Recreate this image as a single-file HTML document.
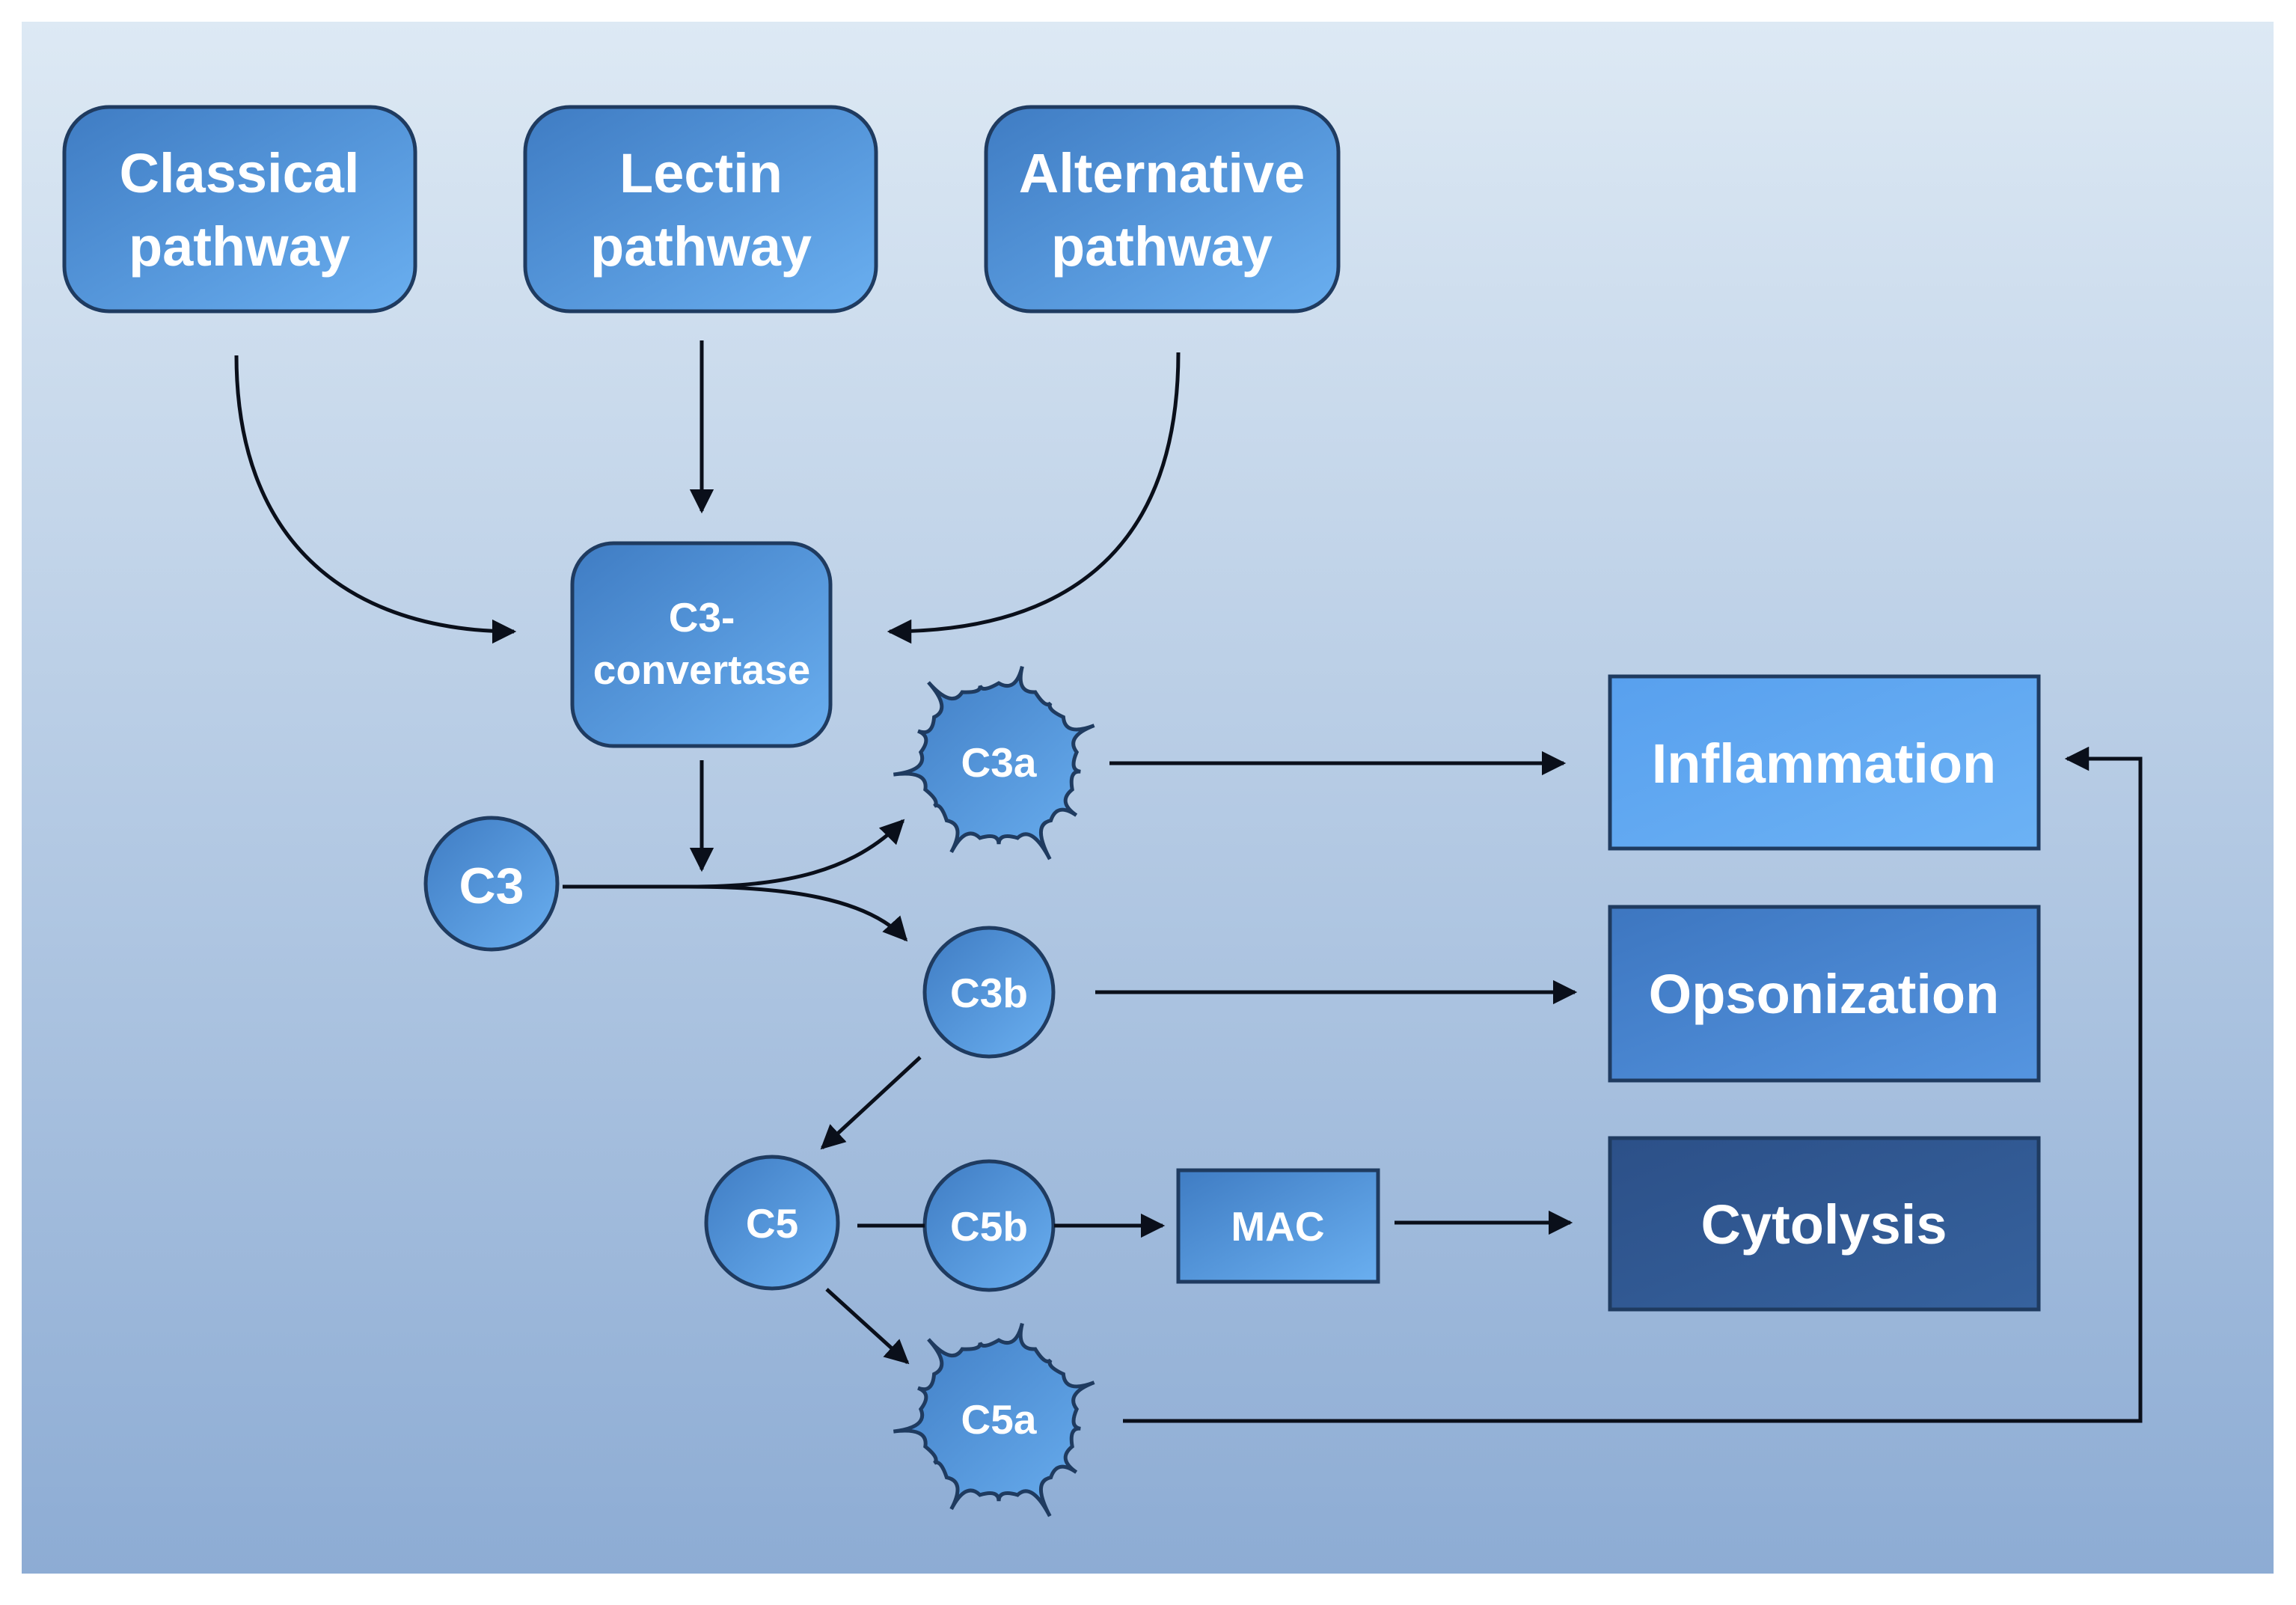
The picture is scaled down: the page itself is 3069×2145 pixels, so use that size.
<!DOCTYPE html>
<html><head><meta charset="utf-8"><style>
html,body{margin:0;padding:0;background:#fff;}
svg{display:block}
text{font-family:"Liberation Sans",sans-serif;fill:#fff;text-anchor:middle;font-weight:bold;}
</style></head><body>
<svg width="3069" height="2145" viewBox="0 0 3069 2145" xmlns="http://www.w3.org/2000/svg">
<defs>
<linearGradient id="bg" x1="0" y1="0" x2="0" y2="1"><stop offset="0" stop-color="#dde9f4"/><stop offset="1" stop-color="#8dacd4"/></linearGradient>
<linearGradient id="bx" x1="0" y1="0" x2="1" y2="1"><stop offset="0" stop-color="#3f7cc3"/><stop offset="1" stop-color="#6aaff0"/></linearGradient>
<linearGradient id="inf" x1="0" y1="0" x2="1" y2="1"><stop offset="0" stop-color="#58a0ee"/><stop offset="1" stop-color="#6cb2f5"/></linearGradient>
<linearGradient id="ops" x1="0" y1="0" x2="1" y2="1"><stop offset="0" stop-color="#3d76c0"/><stop offset="1" stop-color="#5595e0"/></linearGradient>
<linearGradient id="cyt" x1="0" y1="0" x2="1" y2="1"><stop offset="0" stop-color="#2c5088"/><stop offset="1" stop-color="#36629e"/></linearGradient>
<marker id="ah" viewBox="0 0 10 10" refX="9" refY="5" markerWidth="6.5" markerHeight="6.5" orient="auto" markerUnits="strokeWidth"><path d="M0,0 L10,5 L0,10 z" fill="#0a0f1a"/></marker>
</defs>
<rect x="29" y="29" width="3010" height="2074" fill="url(#bg)"/>
<g stroke="#1f3b60" stroke-width="5" fill="url(#bx)">
<rect x="86" y="143" width="469" height="273" rx="60"/>
<rect x="702" y="143" width="469" height="273" rx="60"/>
<rect x="1318" y="143" width="471" height="273" rx="60"/>
<rect x="765" y="726" width="345" height="271" rx="55"/>
<circle cx="657" cy="1181" r="88"/>
<circle cx="1322" cy="1326" r="86"/>
<circle cx="1032" cy="1634" r="88"/>
<circle cx="1322" cy="1638" r="86"/>
<rect x="1575" y="1564" width="267" height="149"/>
<rect x="2152" y="904" width="573" height="230" fill="url(#inf)"/>
<rect x="2152" y="1212" width="573" height="232" fill="url(#ops)"/>
<rect x="2152" y="1521" width="573" height="229" fill="url(#cyt)"/>
<path id="s1" d=""/>
<path id="s2" d=""/>
</g>
<g stroke="#0a0f1a" stroke-width="5" fill="none" marker-end="url(#ah)">
<path d="M316,475 C316,746 490,844 687,844"/>
<path d="M938,455 L938,683"/>
<path d="M1575,471 C1575,746 1413,844 1189,844"/>
<path d="M938,1016 L938,1162"/>
<path d="M752,1185 L920,1185 C1050,1185 1140,1165 1207,1097"/>
<path d="M920,1185 C1050,1185 1160,1200 1211,1256"/>
<path d="M1483,1020 L2090,1020"/>
<path d="M1464,1326 L2105,1326"/>
<path d="M1230,1413 L1099,1534"/>
<path d="M1146,1638 L1236,1638" marker-end="none"/>
<path d="M1409,1638 L1554,1638"/>
<path d="M1864,1634 L2099,1634"/>
<path d="M1105,1723 L1213,1821"/>
<path d="M1501,1899 L2861,1899 L2861,1014 L2763,1014"/>
</g>
<g font-size="74">
<text x="320" y="257">Classical</text><text x="320" y="355">pathway</text>
<text x="937" y="257">Lectin</text><text x="937" y="355">pathway</text>
<text x="1553" y="257">Alternative</text><text x="1553" y="355">pathway</text>
</g>
<g font-size="55">
<text x="938" y="844">C3-</text><text x="938" y="914">convertase</text>
<text x="1335" y="1038">C3a</text>
<text x="1322" y="1346">C3b</text>
<text x="1032" y="1654">C5</text>
<text x="1322" y="1658">C5b</text>
<text x="1708" y="1658">MAC</text>
<text x="1335" y="1916">C5a</text>
</g>
<text x="657" y="1207" font-size="68">C3</text>
<g font-size="74">
<text x="2438" y="1046">Inflammation</text>
<text x="2438" y="1354">Opsonization</text>
<text x="2438" y="1662">Cytolysis</text>
</g>
</svg>
<script>
function splat(cx,cy){
 var n=13,d="",R=105;
 var spikes=[1.25,1.0,1.3,1.05,1.2,1.4,1.05,1.3,1.0,1.35,1.1,1.35,1.0];
 for(var i=0;i<n;i++){
  var a0=(i/n)*2*Math.PI-Math.PI/2, a1=((i+0.5)/n)*2*Math.PI-Math.PI/2, a2=((i+1)/n)*2*Math.PI-Math.PI/2;
  var x0=cx+R*Math.cos(a0),y0=cy+R*Math.sin(a0);
  var r=R*spikes[i];
  var xs=cx+r*Math.cos(a1),ys=cy+r*Math.sin(a1);
  var x2=cx+R*Math.cos(a2),y2=cy+R*Math.sin(a2);
  if(i==0)d+="M"+x0.toFixed(1)+","+y0.toFixed(1);
  var mx=cx+R*0.9*Math.cos(a1),my=cy+R*0.9*Math.sin(a1);
  d+=" Q"+mx.toFixed(1)+","+my.toFixed(1)+" "+xs.toFixed(1)+","+ys.toFixed(1);
  d+=" Q"+mx.toFixed(1)+","+my.toFixed(1)+" "+x2.toFixed(1)+","+y2.toFixed(1);
 }
 return d+"Z";
}
document.getElementById("s1").setAttribute("d",splat(1335,1018));
document.getElementById("s2").setAttribute("d",splat(1335,1896));
</script>
</body></html>
